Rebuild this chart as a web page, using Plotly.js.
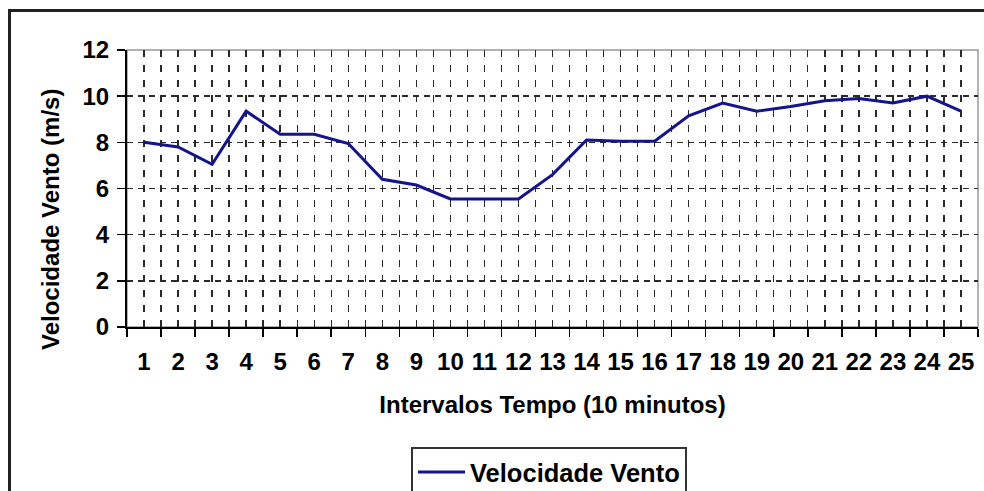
<!DOCTYPE html>
<html>
<head>
<meta charset="utf-8">
<script src="https://cdn.plot.ly/plotly-3.0.1.min.js"></script>
<style>
  html, body { margin: 0; padding: 0; background: #fff; }
  #chart { width: 984px; height: 491px; }
</style>
</head>
<body>
<div id="chart"></div>
<script>
// ---- data ----
const intervalos = [1, 2, 3, 4, 5, 6, 7, 8, 9, 10, 11, 12, 13, 14, 15, 16, 17, 18, 19, 20, 21, 22, 23, 24, 25];
const intervaloLabels = intervalos.map(String);
const velocidadeVento = [8.0, 7.8, 7.05, 9.35, 8.35, 8.35, 7.95, 6.4, 6.15, 5.55, 5.55, 5.55, 6.6, 8.1, 8.05, 8.05, 9.15, 9.7, 9.35, 9.55, 9.8, 9.9, 9.7, 10.0, 9.35];
const yTicks = [0, 2, 4, 6, 8, 10, 12];
const seriesName = 'Velocidade Vento';
const xTitle = 'Intervalos Tempo (10 minutos)';
const yTitle = 'Velocidade Vento (m/s)';

// ---- layout geometry (pixels) ----
const W = 984, H = 491;
const L = 127, R = 6, T = 50, B = 164;
const pw = W - L - R, ph = H - T - B;
const px = v => (v - L) / pw;          // pixel x -> paper x
const py = v => (H - B - v) / ph;      // pixel y -> paper y

const FONT = '"Liberation Sans", Arial, sans-serif';
const GRID = '#2a2a2a';

const trace = {
  x: intervalos,
  y: velocidadeVento,
  type: 'scatter',
  mode: 'lines',
  name: seriesName,
  line: { color: '#14148c', width: 3 },
  hoverinfo: 'x+y'
};

const layout = {
  width: W, height: H,
  margin: { l: L, r: R, t: T, b: B, pad: 0, autoexpand: false },
  paper_bgcolor: '#ffffff',
  plot_bgcolor: '#ffffff',
  font: { family: FONT, size: 24, color: '#000' },
  showlegend: true,
  xaxis: {
    range: [0.5, intervalos.length + 0.5],
    tickmode: 'array',
    tickvals: intervalos,
    ticktext: intervaloLabels,
    ticks: '',
    tickfont: { family: FONT, size: 24, color: '#000', weight: 'bold' },
    ticklabelstandoff: 12,
    showline: true, linecolor: '#000', linewidth: 2,
    showgrid: true, gridcolor: GRID, gridwidth: 1.4, griddash: '7px,8px',
    zeroline: false,
    automargin: false,
    minor: {
      tick0: 0.5, dtick: 1,
      ticks: 'outside', ticklen: 8, tickwidth: 1.5, tickcolor: '#000',
      showgrid: true, gridcolor: GRID, gridwidth: 1.4, griddash: '7px,8px'
    },
    title: {
      text: xTitle,
      font: { family: FONT, size: 24, color: '#000', weight: 'bold' },
      standoff: 22
    },
    fixedrange: true
  },
  yaxis: {
    range: [0, 12],
    tickmode: 'array',
    tickvals: yTicks,
    ticktext: yTicks.map(String),
    ticks: 'outside', ticklen: 8, tickwidth: 1.5, tickcolor: '#000',
    tickfont: { family: FONT, size: 24, color: '#000', weight: 'bold' },
    ticklabelstandoff: 3,
    showline: true, linecolor: '#000', linewidth: 2,
    showgrid: true, gridcolor: GRID, gridwidth: 1.4, griddash: '6px,5px',
    zeroline: false,
    automargin: false,
    fixedrange: true
  },
  legend: {
    xref: 'container', yref: 'container',
    x: 411 / W, y: 1 - 447 / H, xanchor: 'left', yanchor: 'top',
    orientation: 'h',
    itemwidth: 47,
    bgcolor: '#fff', bordercolor: '#333', borderwidth: 2,
    font: { family: FONT, size: 25.5, color: '#000', weight: 'bold' }
  },
  annotations: [{
    text: yTitle,
    xref: 'paper', yref: 'paper',
    x: px(50), y: py(220),
    xanchor: 'center', yanchor: 'middle',
    textangle: -90,
    showarrow: false,
    font: { family: FONT, size: 24, color: '#000', weight: 'bold' }
  }],
  shapes: [
    { type: 'rect', xref: 'paper', yref: 'paper', x0: 0, x1: 1, y0: 0, y1: 1,
      line: { color: '#999', width: 1.5 }, layer: 'below' },
    { type: 'rect', xref: 'paper', yref: 'paper',
      x0: px(9.5), x1: px(1000), y0: py(510), y1: py(10.5),
      line: { color: '#222', width: 3 }, fillcolor: 'rgba(0,0,0,0)', layer: 'above' }
  ]
};

Plotly.newPlot('chart', [trace], layout, { displayModeBar: false, staticPlot: true });
</script>
</body>
</html>
